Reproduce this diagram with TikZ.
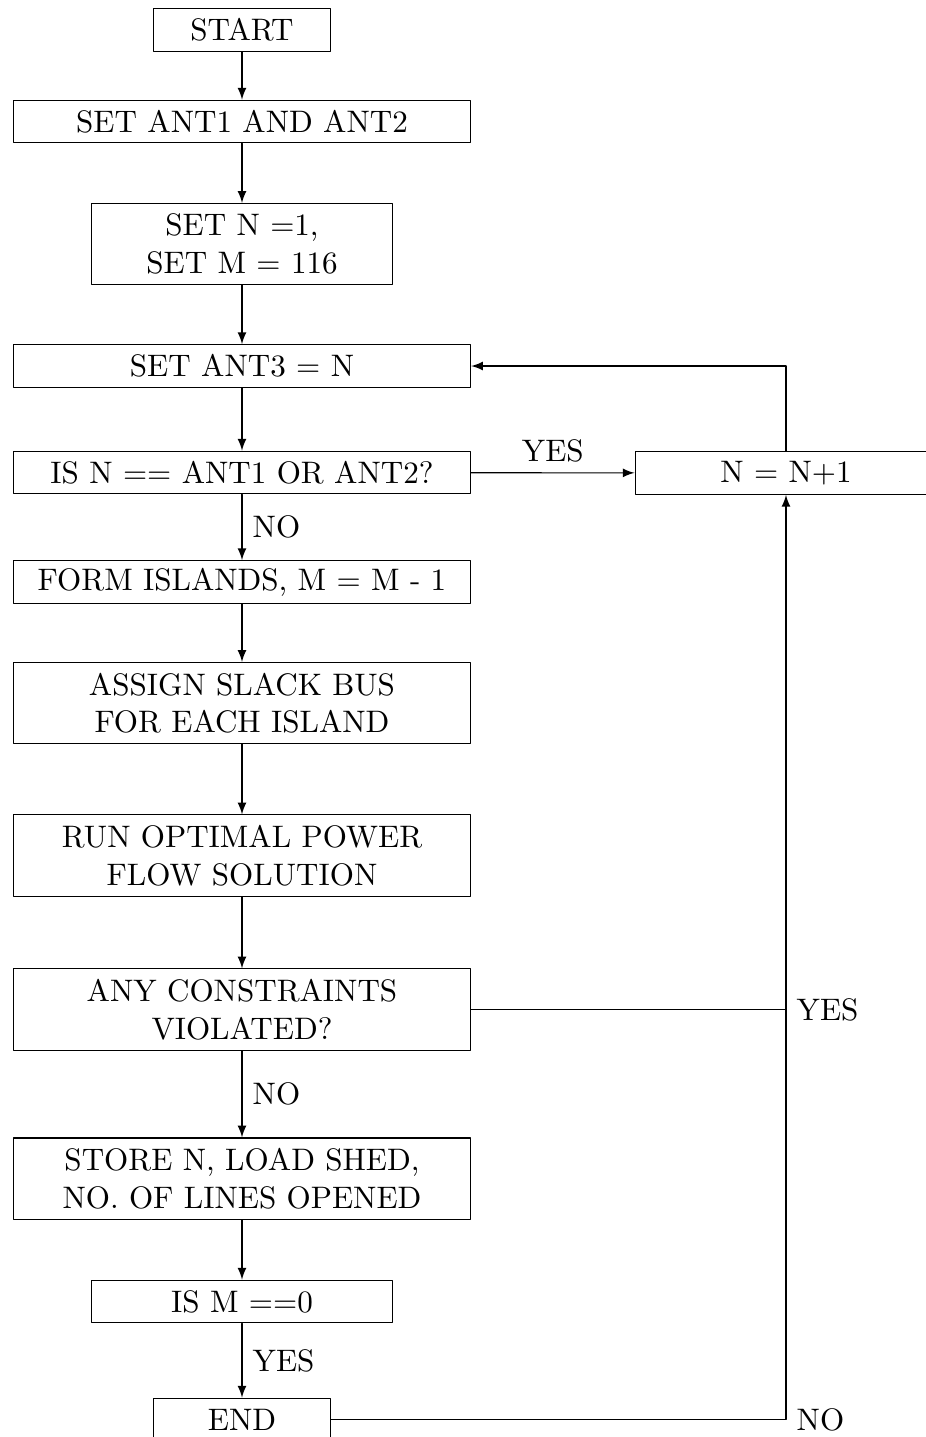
\documentclass[tikz,border=0pt]{standalone}
\usepackage{amsmath}
\usepackage{tikz}
\tikzset{>=latex}

\begin{document}
\begin{tikzpicture}[x=0.328pt, y=-0.328pt, % unidades em pixels, y para baixo
                    line cap=round, line join=round, line width=0.35pt,
                    every node/.style={font=\fontsize{10.2pt}{12.3pt}\selectfont},
                    block/.style={draw, align=center, minimum height=14pt, inner sep=2pt},
                    wide/.style={block, minimum width=150pt},
                    mid/.style={block, minimum width=99pt},
                    small/.style={block, minimum width=58pt},
                    tall/.style={minimum height=26.6pt},
                    flow/.style={->}]
  \useasboundingbox (0,0) rectangle (925,1437);
  \def\xmain{242} % coluna principal
  \def\xloop{786} % coluna do laço

% Blocos da coluna principal
  \node[small] (start) at (\xmain,30) {START};
  \node[wide] (setant) at (\xmain,121.5) {SET ANT1 AND ANT2};
  \node[mid,tall] (setnm) at (\xmain,244) {SET N =1,\\ SET M = 116};
  \node[wide] (setant3) at (\xmain,366) {SET ANT3 = N};
  \node[wide] (isn) at (\xmain,472.5) {IS N == ANT1 OR ANT2?};
  \node[wide] (form) at (\xmain,582) {FORM ISLANDS, M = M - 1};
  \node[wide,tall] (slack) at (\xmain,703) {ASSIGN SLACK BUS\\ FOR EACH ISLAND};
  \node[wide,tall] (opf) at (\xmain,855.5) {RUN OPTIMAL POWER\\ FLOW SOLUTION};
  \node[wide,tall] (viol) at (\xmain,1009.5) {ANY CONSTRAINTS\\ VIOLATED?};
  \node[wide,tall] (store) at (\xmain,1178.5) {STORE N, LOAD SHED,\\ NO. OF LINES OPENED};
  \node[mid] (ism) at (\xmain,1301.5) {IS M ==0};
  \node[small] (end) at (\xmain,1419.5) {END};

% Bloco do incremento
  \node[mid] (nplus) at (\xloop,473) {N = N+1};

% Setas da coluna principal
  \draw[flow] (start) -- (setant);
  \draw[flow] (setant) -- (setnm);
  \draw[flow] (setnm) -- (setant3);
  \draw[flow] (setant3) -- (isn);
  \draw[flow] (isn) -- node[right] {NO} (form);
  \draw[flow] (form) -- (slack);
  \draw[flow] (slack) -- (opf);
  \draw[flow] (opf) -- (viol);
  \draw[flow] (viol) -- node[right] {NO} (store);
  \draw[flow] (store) -- (ism);
  \draw[flow] (ism) -- node[right] {YES} (end);

% Laço de volta
  \draw[flow] (isn) -- node[above] {YES} (nplus);
  \draw[flow] (nplus.north) |- (setant3.east);
  \draw (viol.east) -- (viol.east -| nplus.south) node[right] {YES};
  \draw[flow] (end.east) -- (end.east -| nplus.south) node[right] {NO} -- (nplus.south);
\end{tikzpicture}
\end{document}
